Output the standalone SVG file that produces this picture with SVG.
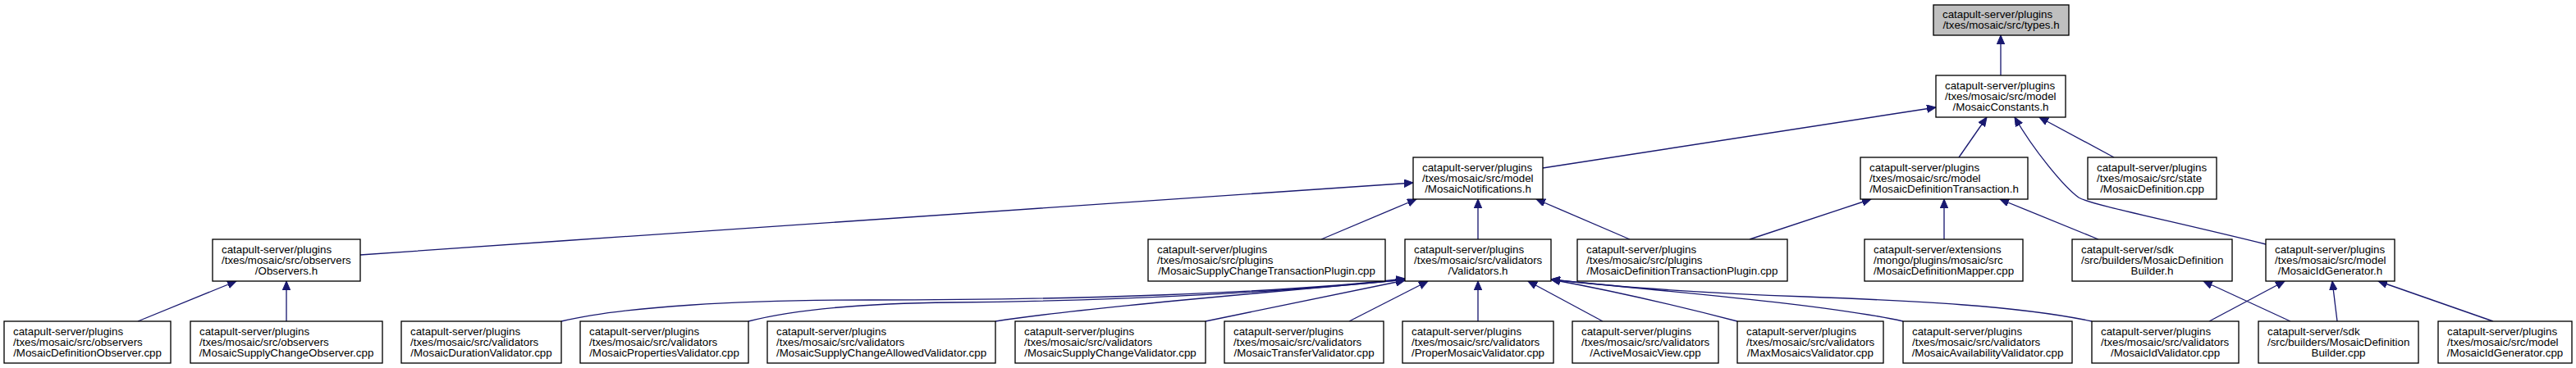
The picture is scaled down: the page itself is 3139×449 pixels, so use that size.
<svg xmlns="http://www.w3.org/2000/svg" width="3139" height="449" viewBox="0 0 3139 449">
<style>
.n rect{fill:#fff;stroke:#000;stroke-width:1.33}
.n text{font-family:"Liberation Sans",Arial,Helvetica,sans-serif;font-size:13.33px;fill:#000}
.n text.c{text-anchor:middle}
.e path{fill:none;stroke:#191970;stroke-width:1.33;marker-end:url(#a)}
</style>
<defs>
<marker id="a" markerUnits="userSpaceOnUse" markerWidth="12" markerHeight="10" refX="11" refY="4.75" orient="auto"><path d="M0,0 L11,4.75 L0,9.5 z" fill="#191970" stroke="#191970" stroke-width="1"/></marker>
</defs>
<rect x="0" y="0" width="3139" height="449" fill="#fff"/>
<g id="edges" class="e">
<path d="M2438,92 L2438,43"/>
<path d="M1880,205 L2359,131"/>
<path d="M2387,192 L2421,143"/>
<path d="M2576,192 L2485,143"/>
<path d="M2761,298 C2640,268 2548,250 2533,241 C2515,228 2478,183 2455,143"/>
<path d="M439,311 C900,279 1400,243 1722,223"/>
<path d="M1610,292 L1726,243"/>
<path d="M1801,292 L1801,243"/>
<path d="M1986,292 L1872,243"/>
<path d="M2132,292 L2280,243"/>
<path d="M2369,292 L2369,243"/>
<path d="M2557,292 L2437,243"/>
<path d="M168,392 L288,343"/>
<path d="M349,392 L349,343"/>
<path d="M684,392 C760,374 900,366 1060,366 C1300,366 1560,358 1712,340"/>
<path d="M912,392 C970,377 1060,370 1160,369 C1370,367 1570,356 1712,341"/>
<path d="M1213,392 C1330,374 1560,356 1712,341"/>
<path d="M1469,392 C1560,373 1650,355 1712,342"/>
<path d="M1644,392 L1740,343"/>
<path d="M1801,392 L1801,343"/>
<path d="M1953,392 L1862,343"/>
<path d="M2117,392 C2040,372 1950,352 1890,341"/>
<path d="M2319,392 C2220,370 2020,355 1890,341"/>
<path d="M2549,392 C2460,373 2330,367 2200,362 C2060,357 1960,349 1890,341"/>
<path d="M2692,392 L2784,343"/>
<path d="M2791,392 L2685,343"/>
<path d="M2848,392 L2842,343"/>
<path d="M3038,392 L2898,343"/>
</g>
<g id="n_types" class="n"><rect x="2356" y="6" width="165" height="37" style="fill:#bfbfbf"/><text x="2367" y="21.5">catapult-server/plugins</text><text class="c" x="2438.5" y="35">/txes/mosaic/src/types.h</text></g>
<g id="n_constants" class="n"><rect x="2359" y="92" width="158" height="51"/><text x="2370" y="108.5">catapult-server/plugins</text><text x="2370" y="121.8">/txes/mosaic/src/model</text><text class="c" x="2438" y="135.1">/MosaicConstants.h</text></g>
<g id="n_notifications" class="n"><rect x="1722" y="192" width="158" height="51"/><text x="1733" y="208.5">catapult-server/plugins</text><text x="1733" y="221.8">/txes/mosaic/src/model</text><text class="c" x="1801" y="235.1">/MosaicNotifications.h</text></g>
<g id="n_deftx" class="n"><rect x="2267" y="192" width="204" height="51"/><text x="2278" y="208.5">catapult-server/plugins</text><text x="2278" y="221.8">/txes/mosaic/src/model</text><text class="c" x="2369" y="235.1">/MosaicDefinitionTransaction.h</text></g>
<g id="n_statedef" class="n"><rect x="2544" y="192" width="157" height="51"/><text x="2555" y="208.5">catapult-server/plugins</text><text x="2555" y="221.8">/txes/mosaic/src/state</text><text class="c" x="2622.5" y="235.1">/MosaicDefinition.cpp</text></g>
<g id="n_observers" class="n"><rect x="259" y="292" width="180" height="51"/><text x="270" y="308.5">catapult-server/plugins</text><text x="270" y="321.8">/txes/mosaic/src/observers</text><text class="c" x="349" y="335.1">/Observers.h</text></g>
<g id="n_sctxplugin" class="n"><rect x="1399" y="292" width="289" height="51"/><text x="1410" y="308.5">catapult-server/plugins</text><text x="1410" y="321.8">/txes/mosaic/src/plugins</text><text class="c" x="1543.5" y="335.1">/MosaicSupplyChangeTransactionPlugin.cpp</text></g>
<g id="n_validators" class="n"><rect x="1712" y="292" width="178" height="51"/><text x="1723" y="308.5">catapult-server/plugins</text><text x="1723" y="321.8">/txes/mosaic/src/validators</text><text class="c" x="1801" y="335.1">/Validators.h</text></g>
<g id="n_deftxplugin" class="n"><rect x="1922" y="292" width="256" height="51"/><text x="1933" y="308.5">catapult-server/plugins</text><text x="1933" y="321.8">/txes/mosaic/src/plugins</text><text class="c" x="2050" y="335.1">/MosaicDefinitionTransactionPlugin.cpp</text></g>
<g id="n_mapper" class="n"><rect x="2272" y="292" width="193" height="51"/><text x="2283" y="308.5">catapult-server/extensions</text><text x="2283" y="321.8">/mongo/plugins/mosaic/src</text><text class="c" x="2368.5" y="335.1">/MosaicDefinitionMapper.cpp</text></g>
<g id="n_builderh" class="n"><rect x="2525" y="292" width="195" height="51"/><text x="2536" y="308.5">catapult-server/sdk</text><text x="2536" y="321.8">/src/builders/MosaicDefinition</text><text class="c" x="2622.5" y="335.1">Builder.h</text></g>
<g id="n_idgenh" class="n"><rect x="2761" y="292" width="157" height="51"/><text x="2772" y="308.5">catapult-server/plugins</text><text x="2772" y="321.8">/txes/mosaic/src/model</text><text class="c" x="2839.5" y="335.1">/MosaicIdGenerator.h</text></g>
<g id="n_defobserver" class="n"><rect x="5" y="392" width="203" height="51"/><text x="16" y="408.5">catapult-server/plugins</text><text x="16" y="421.8">/txes/mosaic/src/observers</text><text class="c" x="106.5" y="435.1">/MosaicDefinitionObserver.cpp</text></g>
<g id="n_scobserver" class="n"><rect x="232" y="392" width="234" height="51"/><text x="243" y="408.5">catapult-server/plugins</text><text x="243" y="421.8">/txes/mosaic/src/observers</text><text class="c" x="349" y="435.1">/MosaicSupplyChangeObserver.cpp</text></g>
<g id="n_duration" class="n"><rect x="489" y="392" width="195" height="51"/><text x="500" y="408.5">catapult-server/plugins</text><text x="500" y="421.8">/txes/mosaic/src/validators</text><text class="c" x="586.5" y="435.1">/MosaicDurationValidator.cpp</text></g>
<g id="n_properties" class="n"><rect x="707" y="392" width="205" height="51"/><text x="718" y="408.5">catapult-server/plugins</text><text x="718" y="421.8">/txes/mosaic/src/validators</text><text class="c" x="809.5" y="435.1">/MosaicPropertiesValidator.cpp</text></g>
<g id="n_scallowed" class="n"><rect x="935" y="392" width="278" height="51"/><text x="946" y="408.5">catapult-server/plugins</text><text x="946" y="421.8">/txes/mosaic/src/validators</text><text class="c" x="1074" y="435.1">/MosaicSupplyChangeAllowedValidator.cpp</text></g>
<g id="n_scvalidator" class="n"><rect x="1237" y="392" width="232" height="51"/><text x="1248" y="408.5">catapult-server/plugins</text><text x="1248" y="421.8">/txes/mosaic/src/validators</text><text class="c" x="1353" y="435.1">/MosaicSupplyChangeValidator.cpp</text></g>
<g id="n_transfer" class="n"><rect x="1492" y="392" width="194" height="51"/><text x="1503" y="408.5">catapult-server/plugins</text><text x="1503" y="421.8">/txes/mosaic/src/validators</text><text class="c" x="1589" y="435.1">/MosaicTransferValidator.cpp</text></g>
<g id="n_proper" class="n"><rect x="1709" y="392" width="184" height="51"/><text x="1720" y="408.5">catapult-server/plugins</text><text x="1720" y="421.8">/txes/mosaic/src/validators</text><text class="c" x="1801" y="435.1">/ProperMosaicValidator.cpp</text></g>
<g id="n_activeview" class="n"><rect x="1916" y="392" width="178" height="51"/><text x="1927" y="408.5">catapult-server/plugins</text><text x="1927" y="421.8">/txes/mosaic/src/validators</text><text class="c" x="2005" y="435.1">/ActiveMosaicView.cpp</text></g>
<g id="n_maxmosaics" class="n"><rect x="2117" y="392" width="178" height="51"/><text x="2128" y="408.5">catapult-server/plugins</text><text x="2128" y="421.8">/txes/mosaic/src/validators</text><text class="c" x="2206" y="435.1">/MaxMosaicsValidator.cpp</text></g>
<g id="n_availability" class="n"><rect x="2319" y="392" width="206" height="51"/><text x="2330" y="408.5">catapult-server/plugins</text><text x="2330" y="421.8">/txes/mosaic/src/validators</text><text class="c" x="2422" y="435.1">/MosaicAvailabilityValidator.cpp</text></g>
<g id="n_idvalidator" class="n"><rect x="2549" y="392" width="179" height="51"/><text x="2560" y="408.5">catapult-server/plugins</text><text x="2560" y="421.8">/txes/mosaic/src/validators</text><text class="c" x="2638.5" y="435.1">/MosaicIdValidator.cpp</text></g>
<g id="n_buildercpp" class="n"><rect x="2752" y="392" width="195" height="51"/><text x="2763" y="408.5">catapult-server/sdk</text><text x="2763" y="421.8">/src/builders/MosaicDefinition</text><text class="c" x="2849.5" y="435.1">Builder.cpp</text></g>
<g id="n_idgencpp" class="n"><rect x="2971" y="392" width="163" height="51"/><text x="2982" y="408.5">catapult-server/plugins</text><text x="2982" y="421.8">/txes/mosaic/src/model</text><text class="c" x="3052.5" y="435.1">/MosaicIdGenerator.cpp</text></g>
</svg>
